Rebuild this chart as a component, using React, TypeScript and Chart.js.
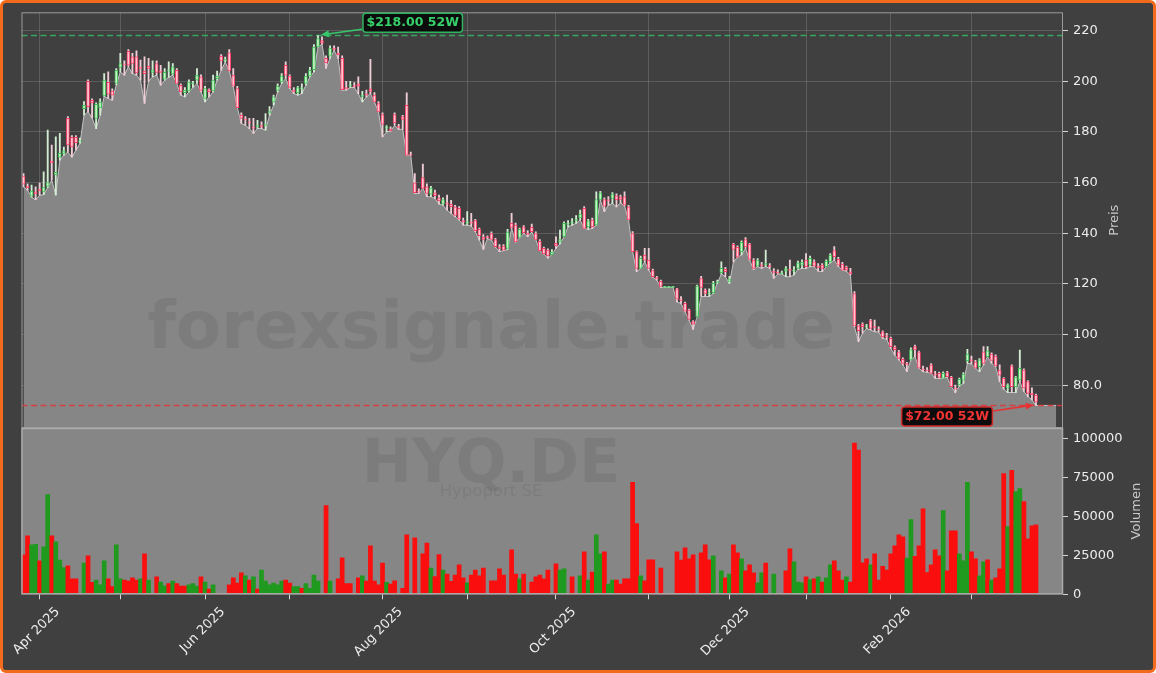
import React, { useEffect, useRef } from 'react';
import { Chart, registerables } from 'chart.js';

Chart.register(...registerables);

// ---- data ----
const opens = [
  162.5,158.6,154.6,156.3,157.4,156.5,158.5,168.5,163.0,170.0,
  171.5,185.3,177.8,177.8,176.0,189.2,200.0,192.5,185.3,189.5,
  194.2,199.6,196.1,199.1,205.4,206.8,211.8,209.6,209.6,205.5,
  204.0,206.0,203.5,207.0,204.0,200.8,204.0,202.8,204.3,198.4,
  195.5,196.2,199.0,200.4,201.7,193.2,196.7,196.2,201.0,209.9,
  208.0,211.2,202.4,197.1,186.6,185.0,184.0,182.0,182.0,182.5,
  182.5,187.5,191.8,196.4,199.7,206.3,202.0,196.5,195.4,197.0,
  199.1,202.0,204.6,213.5,216.0,209.0,209.9,213.0,211.0,209.0,
  197.5,198.0,198.0,199.0,194.0,195.0,197.0,194.5,191.2,186.8,
  181.5,181.0,186.8,182.0,186.0,190.5,171.0,159.9,156.5,162.0,
  158.3,155.4,155.9,154.0,151.5,152.0,151.5,150.4,149.8,145.0,
  144.0,144.5,145.0,141.5,138.5,138.5,139.9,137.5,134.5,134.9,
  134.0,143.9,143.2,138.3,142.5,140.0,142.3,139.9,136.9,134.0,
  133.3,131.5,136.0,136.5,138.6,143.5,144.0,145.0,146.0,149.8,
  142.5,145.2,143.2,153.3,153.3,153.0,153.7,154.8,154.4,154.4,
  150.4,139.9,132.7,126.1,131.4,129.4,125.2,122.5,121.0,118.6,
  118.6,118.6,118.0,114.0,112.3,109.7,105.1,107.0,122.1,117.6,
  116.0,116.5,120.5,124.4,125.7,121.0,135.6,134.4,132.7,137.5,
  135.7,129.4,127.0,127.5,127.5,127.0,125.0,124.5,124.0,125.0,
  125.5,125.0,126.1,127.4,129.4,127.4,128.7,127.0,127.4,126.8,
  128.7,133.1,129.7,127.8,126.5,124.8,116.2,103.4,104.1,103.0,
  105.5,103.0,102.0,101.1,99.5,98.5,95.0,93.2,90.2,88.5,
  90.0,95.2,93.2,86.5,86.0,88.0,84.5,84.7,82.7,85.0,
  83.1,79.0,80.1,82.0,89.7,90.0,89.2,87.3,93.2,91.3,
  92.3,91.5,86.0,82.7,78.8,87.6,79.4,82.1,86.0,81.4,
  76.8,76.1,
];
const highs = [
  163.5,159.5,159.0,158.3,159.8,164.2,180.7,174.8,178.0,179.4,
  174.0,186.0,178.5,178.5,177.5,192.0,200.5,193.0,191.5,193.0,
  203.0,203.7,197.0,205.0,211.0,208.0,212.5,211.0,212.0,208.3,
  209.6,209.0,208.0,208.0,206.3,205.0,207.6,207.0,205.0,199.0,
  197.5,200.5,200.0,205.0,202.5,198.0,197.0,202.4,204.0,210.5,
  209.5,212.5,205.0,198.0,187.5,186.0,185.3,185.3,184.6,184.0,
  187.2,190.0,194.5,199.0,203.0,207.6,202.5,197.5,198.0,199.0,
  203.0,205.5,214.5,218.0,217.5,210.0,214.0,214.0,213.5,210.0,
  200.0,200.0,199.5,201.7,196.0,196.5,208.6,195.5,192.0,187.5,
  182.5,182.0,187.5,183.0,186.5,195.4,172.0,163.5,157.5,167.3,
  159.5,158.5,157.0,155.0,154.0,155.0,153.0,151.0,150.5,146.0,
  148.5,147.8,145.5,142.0,139.5,139.0,140.5,138.0,135.5,135.5,
  141.5,147.8,144.0,142.0,143.0,141.0,143.6,140.5,137.5,134.5,
  133.8,133.5,138.6,141.2,144.5,145.0,145.8,147.0,149.1,150.5,
  145.5,146.0,156.3,156.5,154.0,154.5,156.0,155.5,155.0,156.3,
  151.0,140.6,133.0,131.0,134.0,134.0,125.8,123.0,121.5,118.6,
  118.6,118.6,118.2,115.0,112.8,110.0,105.5,119.5,123.0,118.0,
  118.0,121.0,121.5,128.7,126.5,123.0,136.0,135.0,137.0,138.3,
  136.0,130.0,130.0,128.5,133.3,128.0,126.0,125.5,125.0,126.8,
  129.4,126.8,129.0,129.5,132.0,131.0,129.5,128.0,128.0,129.5,
  132.0,134.7,130.5,128.5,127.0,126.1,117.0,104.0,104.6,104.0,
  106.0,105.7,103.0,101.5,100.5,99.0,95.5,93.8,90.8,89.0,
  94.8,95.8,93.5,87.5,87.0,88.5,85.5,85.2,85.3,85.5,
  83.5,80.0,82.8,85.0,94.2,91.5,89.8,90.5,95.2,95.2,
  92.8,92.0,88.0,83.0,80.5,88.0,83.5,93.9,86.5,81.8,
  79.0,76.5,
];
const lows = [
  158.3,157.0,154.2,153.2,155.0,155.2,158.0,161.0,155.0,168.8,
  170.8,172.0,170.0,172.8,175.5,186.6,187.9,185.5,181.3,186.6,
  194.0,193.2,192.5,198.5,203.7,202.4,205.7,203.0,202.4,200.4,
  191.2,200.0,201.7,202.4,198.4,200.4,201.5,202.4,199.1,194.5,
  193.8,195.8,197.5,199.1,195.8,191.8,193.8,195.8,200.4,204.3,
  207.5,204.1,197.8,189.6,183.3,182.6,181.3,179.4,181.3,181.3,
  180.7,186.6,190.5,195.8,199.1,201.1,197.1,195.1,194.5,195.1,
  198.4,201.7,203.7,213.5,214.5,205.0,209.0,212.2,209.0,196.5,
  196.5,197.5,197.5,195.1,191.8,193.8,195.1,191.8,187.9,178.0,
  180.0,180.3,182.6,181.0,181.0,170.8,170.8,155.7,155.7,157.7,
  154.4,154.4,153.7,151.5,151.1,149.1,147.8,146.5,145.2,143.2,
  143.2,142.8,140.6,137.3,133.6,137.8,137.3,134.5,132.7,133.1,
  133.5,141.9,136.5,138.2,139.9,138.6,140.4,137.5,133.1,131.8,
  130.1,131.5,134.0,135.8,138.6,142.5,143.2,143.9,145.2,141.9,
  141.5,141.9,143.2,153.0,148.5,151.1,151.7,150.4,152.0,150.8,
  145.2,132.7,124.8,126.1,128.7,125.4,122.6,121.5,118.6,118.6,
  118.6,118.6,112.9,112.3,109.0,105.7,102.0,107.0,115.0,115.0,
  115.0,116.2,120.2,123.9,122.8,120.2,128.7,130.5,131.4,134.0,
  129.4,125.7,126.8,126.1,126.8,126.1,122.2,123.9,123.9,122.8,
  122.8,123.5,125.7,126.1,126.1,126.8,126.8,125.0,124.8,126.8,
  128.3,129.4,126.8,125.4,125.0,123.5,103.1,97.2,100.5,102.4,
  101.8,101.1,101.0,98.5,98.1,94.5,91.9,90.0,88.0,85.3,
  90.0,91.3,86.7,85.3,85.1,84.7,82.7,82.7,82.7,83.1,
  79.4,77.1,79.7,80.7,88.6,88.4,86.7,85.3,88.0,91.3,
  88.6,87.3,81.4,78.4,77.1,77.1,77.1,81.4,77.5,75.5,
  74.2,72.0,
];
const closes = [
  159.4,158.0,156.6,155.6,156.8,158.0,160.0,167.8,164.0,171.5,
  172.5,174.8,174.1,175.7,176.5,190.5,189.9,191.4,190.9,191.8,
  200.4,194.9,194.5,204.3,207.0,206.4,206.3,207.0,203.3,205.0,
  203.0,205.0,204.5,203.5,203.5,203.5,204.5,205.7,199.1,195.8,
  196.5,199.7,199.4,202.4,196.4,197.1,195.8,200.4,202.0,208.0,
  208.5,204.1,198.0,189.6,185.3,184.7,183.5,181.5,182.5,182.0,
  183.0,188.0,193.8,198.0,202.0,202.4,197.5,196.0,197.5,197.3,
  202.0,204.3,213.5,216.8,215.0,207.2,213.1,212.5,210.5,196.7,
  197.0,198.3,197.8,198.0,194.5,194.5,196.0,191.8,187.9,183.0,
  182.0,180.5,183.6,181.8,184.9,170.8,170.8,156.0,156.2,157.7,
  155.7,157.9,154.8,152.7,153.3,151.5,150.5,147.0,145.5,144.5,
  144.5,144.0,141.0,139.0,137.5,138.2,137.5,134.7,134.0,133.3,
  140.4,142.3,136.6,141.5,140.2,139.5,140.6,137.5,133.1,131.8,
  131.0,132.5,135.0,137.5,143.9,144.0,144.5,145.5,147.5,141.9,
  144.9,142.5,153.3,155.9,150.7,152.8,155.4,153.1,153.3,151.1,
  145.2,132.7,126.1,130.1,129.4,126.1,122.8,122.0,119.0,118.6,
  118.6,118.6,114.0,113.5,109.2,106.0,104.1,119.1,118.6,116.2,
  116.5,120.2,120.8,126.1,124.8,122.0,133.6,130.5,136.4,134.7,
  129.7,126.1,129.4,127.0,128.0,126.8,124.5,124.2,124.3,126.0,
  125.3,125.5,128.3,128.6,126.8,130.1,127.0,126.5,126.1,129.0,
  131.4,130.7,127.4,125.4,125.4,123.9,103.4,101.5,103.1,103.3,
  102.4,102.8,101.8,99.1,99.0,95.2,94.0,90.6,88.6,88.0,
  94.1,93.9,86.7,86.0,85.6,84.7,84.0,83.1,84.7,83.4,
  79.4,78.5,82.3,84.4,92.3,89.5,86.7,90.0,88.6,93.6,
  89.8,87.6,84.0,79.4,80.1,79.4,83.1,86.7,78.8,76.8,
  76.3,73.3,
];
const volumes = [
  25300,37500,31800,32000,21500,30500,64000,37500,33700,22000,
  17100,18200,9900,9900,0,20000,24700,7700,9200,6000,
  21500,9900,4900,31800,9900,9200,8500,10600,9200,9900,
  26000,9200,0,11200,7900,5500,6800,8500,6800,5300,
  5300,6000,6800,5300,11200,7900,3400,6000,0,0,
  0,6000,10600,7200,13700,11900,9200,11200,3400,15600,
  8500,6000,7200,6000,8500,9200,7200,4900,4900,3900,
  6800,3900,12400,8500,0,57000,8500,0,9900,23400,
  6800,6800,0,10600,11900,8500,31100,8500,6000,20000,
  7700,6600,8600,0,3900,38200,0,36300,0,26000,
  32800,16900,11400,25500,15600,13000,8400,12400,18900,10500,
  7300,12400,15600,11800,16900,0,8600,8600,16300,12400,
  0,28500,13000,10000,13000,0,7900,11200,12400,10000,
  15600,0,19500,15600,16300,0,11200,0,11800,27300,
  9200,14300,38200,26000,27300,6600,9200,9200,6600,10000,
  10000,71900,45300,11800,8600,22100,22100,0,16900,0,
  0,0,27300,22000,29800,22700,25300,0,26600,31800,
  22100,24700,0,15000,10500,13000,31800,26600,22700,15000,
  18900,13700,7300,13700,20000,0,13000,0,0,15000,
  29200,20800,7900,7300,11200,9500,10000,11200,7900,10500,
  18900,21500,15000,9200,11200,7900,97000,92500,20200,22700,
  18900,26000,9200,17900,15600,26000,31100,38200,36900,23200,
  47900,24300,31100,54800,14000,18900,28500,24700,53700,15000,
  40800,40800,26000,21500,71900,27300,22700,11800,20800,22100,
  9200,10500,16300,77500,43400,79500,65900,67800,59500,35600,
  44000,44600,
];
// 1 = green volume bar, 0 = red volume bar
const volumeUp = [
  0,0,1,1,0,1,1,0,1,1, 1,0,0,0,0,1,0,0,1,1, 1,0,0,1,1,0,0,0,0,1,
  0,1,0,0,1,1,0,1,0,0, 0,1,1,1,0,1,0,1,0,0, 0,0,0,0,0,1,0,1,0,1,
  1,1,1,1,1,0,0,1,1,0, 1,1,1,1,0,0,1,0,0,0, 0,0,0,0,1,0,0,0,0,0,
  1,0,0,0,0,0,0,0,0,0, 0,1,0,0,1,0,0,0,0,0, 1,0,0,0,0,0,0,0,0,0,
  0,0,0,1,0,0,0,0,0,0, 0,0,0,1,1,0,0,0,1,0, 1,0,1,1,0,1,1,0,0,0,
  0,0,0,1,0,0,0,0,0,0, 0,0,0,0,0,0,0,0,0,0, 0,1,0,1,0,1,0,0,1,0,
  0,0,1,1,0,0,1,0,0,0, 0,1,1,1,0,1,0,1,0,1, 1,0,0,0,1,0,0,0,0,0,
  1,0,0,0,0,0,0,0,0,1, 1,0,0,0,0,0,0,0,1,0, 0,0,1,1,1,0,0,1,1,0,
  1,0,0,0,1,0,1,1,0,0, 0,0,
];
// the grey area keeps running flat after the last session
const areaTail = [72, 72, 72, 72, 72];

const monthTickIndex = [4, 24, 45, 66, 89, 110, 132, 155, 175, 194, 215, 235];
const monthTickLabels = ['Apr 2025', '', 'Jun 2025', '', 'Aug 2025', '', 'Oct 2025', '', 'Dec 2025', '', 'Feb 2026', ''];
const priceTicks = [80, 100, 120, 140, 160, 180, 200, 220];
const volumeTicks = [0, 25000, 50000, 75000, 100000];

const high52 = 218;
const high52Index = 73;
const low52 = 72;
const low52Index = 251;

const X_MIN = -0.5;
const X_MAX = 257.7;
const PRICE_MIN = 63.1;
const PRICE_MAX = 227.2;
const VOLUME_MAX = 106700;

// ---- styles ----
const FONT = "'DejaVu Sans', Verdana, sans-serif";
const BG = '#404040';
const PANEL_GRAY = '#868686';
const GRID = 'rgba(255,255,255,0.15)';
const TICK_COLOR = '#d6d6d6';
const TEXT = '#ececec';
const GREEN_TXT = '#36d16a';
const RED_TXT = '#f03434';

function drawArrow(ctx: CanvasRenderingContext2D, x1: number, y1: number, x2: number, y2: number, color: string) {
  const ang = Math.atan2(y2 - y1, x2 - x1);
  const hl = 8, hw = 3.5;
  ctx.strokeStyle = color;
  ctx.fillStyle = color;
  ctx.lineWidth = 1.6;
  ctx.beginPath();
  ctx.moveTo(x1, y1);
  ctx.lineTo(x2 - Math.cos(ang) * hl * 0.8, y2 - Math.sin(ang) * hl * 0.8);
  ctx.stroke();
  ctx.beginPath();
  ctx.moveTo(x2, y2);
  ctx.lineTo(x2 - Math.cos(ang) * hl - Math.sin(ang) * hw, y2 - Math.sin(ang) * hl + Math.cos(ang) * hw);
  ctx.lineTo(x2 - Math.cos(ang) * hl + Math.sin(ang) * hw, y2 - Math.sin(ang) * hl - Math.cos(ang) * hw);
  ctx.closePath();
  ctx.fill();
}

function drawLabel(ctx: CanvasRenderingContext2D, text: string, left: number, top: number, color: string, border: string) {
  ctx.font = `bold 12.5px ${FONT}`;
  const w = ctx.measureText(text).width + 7;
  const h = 19;
  ctx.beginPath();
  if ((ctx as any).roundRect) (ctx as any).roundRect(left, top, w, h, 3);
  else ctx.rect(left, top, w, h);
  ctx.fillStyle = '#0c0c0c';
  ctx.fill();
  ctx.lineWidth = 1.5;
  ctx.strokeStyle = border;
  ctx.stroke();
  ctx.fillStyle = color;
  ctx.textAlign = 'center';
  ctx.textBaseline = 'middle';
  ctx.fillText(text, left + w / 2, top + h / 2 + 0.5);
  return w;
}

const overlayPlugin = {
  id: 'overlay',
  beforeDatasetsDraw(chart: any) {
    const { ctx, chartArea } = chart;
    const yv = chart.scales.yv;
    ctx.save();
    ctx.fillStyle = PANEL_GRAY;
    ctx.fillRect(chartArea.left, yv.top, chartArea.right - chartArea.left, yv.bottom - yv.top);
    ctx.restore();
  },
  afterDatasetsDraw(chart: any) {
    const { ctx, chartArea } = chart;
    const x = chart.scales.x, y = chart.scales.y, yv = chart.scales.yv;
    ctx.save();
    // watermark
    ctx.fillStyle = 'rgba(0,0,0,0.075)';
    ctx.textAlign = 'center';
    ctx.textBaseline = 'alphabetic';
    ctx.font = `bold 66px ${FONT}`;
    ctx.fillText('forexsignale.trade', 488, 345);
    ctx.font = `bold 60px ${FONT}`;
    ctx.fillText('HYQ.DE', 488, 479);
    ctx.font = `16.5px ${FONT}`;
    ctx.fillText('Hypoport SE', 488, 493);

    // spines
    ctx.lineWidth = 1;
    ctx.strokeStyle = '#9a9a9a';
    ctx.strokeRect(chartArea.left + 0.5, y.top + 0.5, chartArea.right - chartArea.left - 1, y.bottom - y.top - 1);
    ctx.strokeStyle = '#ababab';
    ctx.lineWidth = 1.5;
    ctx.strokeRect(chartArea.left + 0.5, yv.top + 0.5, chartArea.right - chartArea.left - 1, yv.bottom - yv.top - 1);

    // 52W annotations
    const hx = x.getPixelForValue(high52Index);
    const hy = y.getPixelForValue(high52);
    drawLabel(ctx, `$${high52.toFixed(2)} 52W`, hx + 45, hy - 22.4, GREEN_TXT, '#2fb35e');
    drawArrow(ctx, hx + 44, hy - 6.4, hx + 3, hy - 0.8, '#36c86a');

    const lx = x.getPixelForValue(low52Index);
    const ly = y.getPixelForValue(low52);
    const w = drawLabel(ctx, `$${low52.toFixed(2)} 52W`, lx - 134.3, ly + 1.5, RED_TXT, '#d02a2a');
    drawArrow(ctx, lx - 134.3 + w + 1, ly + 5.5, lx - 2.3, ly - 0.5, '#e83232');
    ctx.restore();
  },
  afterDraw(chart: any) {
    const { ctx } = chart;
    const y = chart.scales.y, yv = chart.scales.yv;
    ctx.save();
    ctx.fillStyle = '#c8c8c8';
    ctx.font = `13px ${FONT}`;
    ctx.textAlign = 'center';
    ctx.textBaseline = 'middle';
    ctx.translate(y.left + 52, (y.top + y.bottom) / 2);
    ctx.rotate(-Math.PI / 2);
    ctx.fillText('Preis', 0, 0);
    ctx.restore();
    ctx.save();
    ctx.fillStyle = '#c8c8c8';
    ctx.font = `13px ${FONT}`;
    ctx.textAlign = 'center';
    ctx.textBaseline = 'middle';
    ctx.translate(yv.left + 74, (yv.top + yv.bottom) / 2);
    ctx.rotate(-Math.PI / 2);
    ctx.fillText('Volumen', 0, 0);
    ctx.restore();
  },
};

export default function App() {
  const ref = useRef<HTMLCanvasElement>(null);

  useEffect(() => {
    document.body.style.margin = '0';
    const canvas = ref.current;
    if (!canvas) return;

    Chart.defaults.font.family = FONT;

    const n = opens.length;
    const idx = Array.from({ length: n }, (_, i) => i);
    const isUp = idx.map((i) => closes[i] >= opens[i]);
    const wickData = idx.map((i) => ({ x: i, y: [lows[i], highs[i]] }));
    const bodyData = idx.map((i) => ({ x: i, y: [Math.min(opens[i], closes[i]), Math.max(opens[i], closes[i])] }));
    const areaData = lows.concat(areaTail).map((v, i) => ({ x: i, y: v }));
    const volData = idx.map((i) => ({ x: i, y: volumes[i] }));
    const hLine = [{ x: X_MIN, y: high52 }, { x: X_MAX, y: high52 }];
    const lLine = [{ x: X_MIN, y: low52 }, { x: X_MAX, y: low52 }];

    const chart = new Chart(canvas, {
      type: 'line',
      data: {
        datasets: [
          {
            type: 'line',
            data: areaData,
            yAxisID: 'y',
            borderColor: '#c4c4c4',
            borderWidth: 1,
            backgroundColor: PANEL_GRAY,
            fill: 'start',
            pointRadius: 0,
            tension: 0,
            order: 10,
          },
          {
            type: 'bar',
            data: volData,
            yAxisID: 'yv',
            backgroundColor: volumeUp.map((u) => (u ? '#1f9a1f' : '#fa0e0e')),
            borderWidth: 0,
            barPercentage: 1,
            categoryPercentage: 1,
            grouped: false,
            order: 9,
          },
          {
            type: 'line',
            data: hLine,
            yAxisID: 'y',
            borderColor: 'rgba(52,190,104,0.8)',
            borderWidth: 1.5,
            borderDash: [6, 3.5],
            pointRadius: 0,
            fill: false,
            order: 8,
          },
          {
            type: 'line',
            data: lLine,
            yAxisID: 'y',
            borderColor: 'rgba(226,52,52,0.85)',
            borderWidth: 1.5,
            borderDash: [6, 3.5],
            pointRadius: 0,
            fill: false,
            order: 7,
          },
          {
            type: 'bar',
            data: wickData,
            yAxisID: 'y',
            backgroundColor: isUp.map((u) => (u ? '#d2ecd2' : '#efcdd5')),
            borderWidth: 0,
            barThickness: 1.2,
            grouped: false,
            order: 2,
          },
          {
            type: 'bar',
            data: bodyData,
            yAxisID: 'y',
            backgroundColor: isUp.map((u) => (u ? '#c9f2c9' : '#ffc9d4')),
            borderColor: isUp.map((u) => (u ? '#3fbf55' : '#ff3d66')),
            borderWidth: 1,
            borderSkipped: false,
            barThickness: 3,
            minBarLength: 1,
            grouped: false,
            order: 1,
          },
        ] as any,
      },
      options: {
        responsive: false,
        animation: false,
        devicePixelRatio: 1,
        layout: { padding: { left: 18.5, top: 9.3, right: 0, bottom: 0 } },
        plugins: {
          legend: { display: false },
          tooltip: { enabled: false },
        },
        scales: {
          x: {
            type: 'linear',
            min: X_MIN,
            max: X_MAX,
            offset: false,
            grid: { color: GRID, lineWidth: 1, offset: false, drawTicks: true, tickLength: 5, tickColor: TICK_COLOR, tickWidth: 1 },
            border: { display: false },
            ticks: {
              autoSkip: false,
              minRotation: 45,
              maxRotation: 45,
              color: TEXT,
              font: { size: 13 },
              padding: 5,
              labelOffset: 18,
              callback: (_v: any, i: number) => monthTickLabels[i] ?? '',
            },
            afterBuildTicks: (s: any) => {
              s.ticks = monthTickIndex.map((v) => ({ value: v }));
            },
            afterFit: (s: any) => {
              s.height = 75.7;
              s.paddingLeft = 0;
              s.paddingRight = 0;
            },
          },
          y: {
            type: 'linear',
            position: 'right',
            stack: 'panes',
            stackWeight: 2.5,
            min: PRICE_MIN,
            max: PRICE_MAX,
            grid: { color: GRID, lineWidth: 1, drawTicks: true, tickLength: 5, tickColor: TICK_COLOR },
            border: { display: false },
            ticks: {
              color: TEXT,
              font: { size: 13 },
              padding: 5,
              callback: (v: any) => (v === 80 ? '80.0' : String(v)),
            },
            afterBuildTicks: (s: any) => {
              s.ticks = priceTicks.map((v) => ({ value: v }));
            },
            afterFit: (s: any) => {
              s.width = 90;
              s.paddingTop = 0;
              s.paddingBottom = 0;
            },
          },
          yv: {
            type: 'linear',
            position: 'right',
            stack: 'panes',
            stackWeight: 1,
            min: 0,
            max: VOLUME_MAX,
            grid: { drawOnChartArea: false, drawTicks: true, tickLength: 5, tickColor: TICK_COLOR },
            border: { display: false },
            ticks: {
              color: TEXT,
              font: { size: 13 },
              padding: 5,
              callback: (v: any) => String(v),
            },
            afterBuildTicks: (s: any) => {
              s.ticks = volumeTicks.map((v) => ({ value: v }));
            },
            afterFit: (s: any) => {
              s.width = 90;
              s.paddingTop = 0;
              s.paddingBottom = 0;
            },
          },
        } as any,
      },
      plugins: [overlayPlugin as any],
    });

    return () => chart.destroy();
  }, []);

  return (
    <div
      style={{
        width: 1156,
        height: 673,
        boxSizing: 'border-box',
        border: '3px solid #f26a1b',
        borderRadius: 6,
        background: BG,
        position: 'relative',
        overflow: 'hidden',
      }}
    >
      <canvas ref={ref} width={1150} height={667} style={{ display: 'block', width: 1150, height: 667 }} />
    </div>
  );
}
